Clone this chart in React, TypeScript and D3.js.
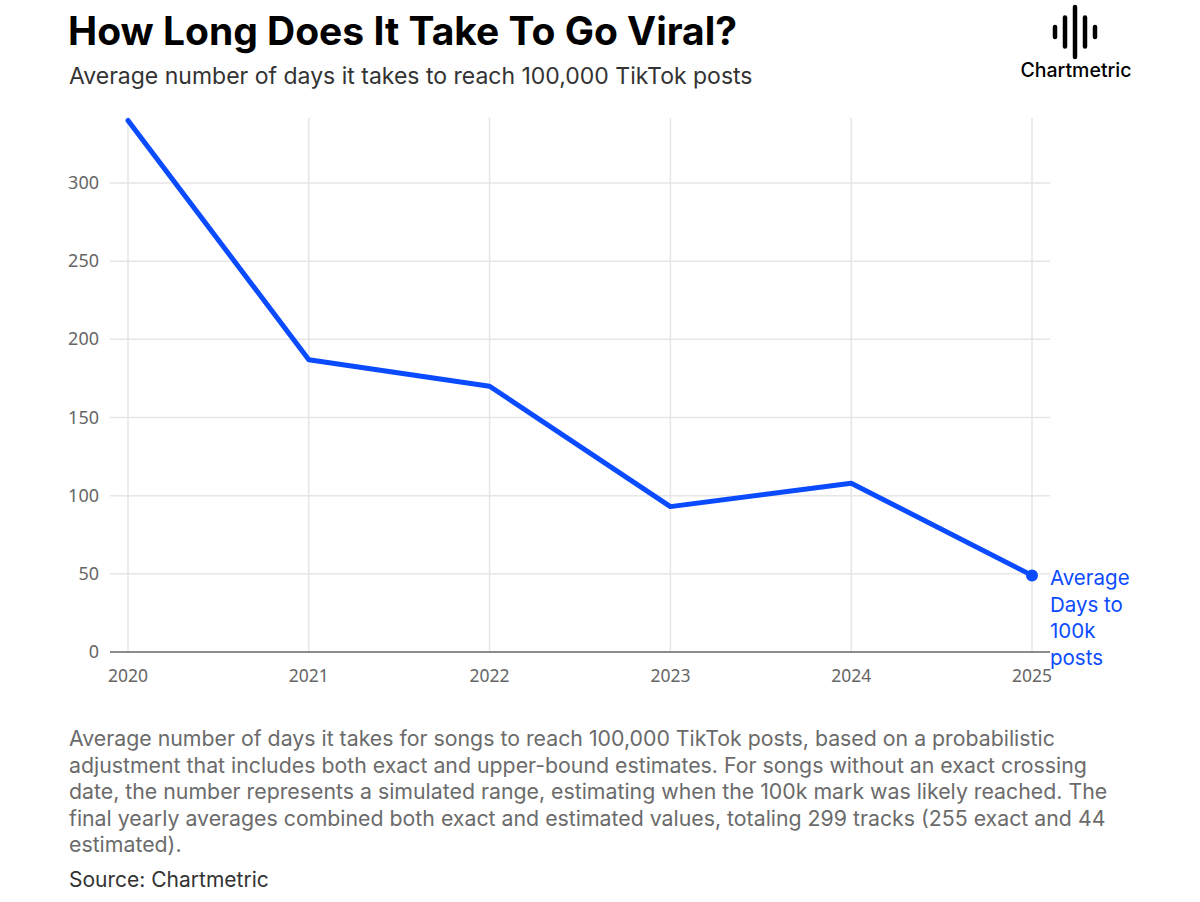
import React from "react";
import * as d3 from "d3";

const years = [2020, 2021, 2022, 2023, 2024, 2025];
const days = [340, 187, 170, 93, 108, 49];
const yTicks = [0, 50, 100, 150, 200, 250, 300];
const captionLines = [
  "Average number of days it takes for songs to reach 100,000 TikTok posts, based on a probabilistic",
  "adjustment that includes both exact and upper-bound estimates. For songs without an exact crossing",
  "date, the number represents a simulated range, estimating when the 100k mark was likely reached. The",
  "final yearly averages combined both exact and estimated values, totaling 299 tracks (255 exact and 44",
  "estimated).",
];
const seriesLabel = ["Average", "Days to", "100k", "posts"];
const logoBars = [
  { dx: -20, h: 10 },
  { dx: -10, h: 29 },
  { dx: 0, h: 50 },
  { dx: 10, h: 29 },
  { dx: 20, h: 10 },
];

const BLUE = "#0B4BFF";

export default function App() {
  const W = 1200, H = 902;
  const x = d3.scalePoint<number>().domain(years).range([128, 1032]);
  const y = d3.scaleLinear().domain([0, 300]).range([652, 183]);
  const line = d3.line<number>().x((_, i) => x(years[i])!).y((d) => y(d));
  const last = days.length - 1;
  const font = "Inter, 'Noto Sans', sans-serif";
  const axisFont = "'Noto Sans', 'Open Sans', sans-serif";
  return (
    <svg width={W} height={H} style={{ position: "absolute", left: 0, top: 0, background: "#fff" }}>
      <rect width={W} height={H} fill="#fff" />
      <text x={68} y={45} fontFamily={font} fontWeight={700} fontSize={39} fill="#000" letterSpacing={0}>
        How Long Does It Take To Go Viral?
      </text>
      <text x={69} y={84} fontFamily={font} fontSize={23} fill="#333">
        Average number of days it takes to reach 100,000 TikTok posts
      </text>
      {/* logo */}
      <g>
        {logoBars.map((b, i) => (
          <line key={i} x1={1075 + b.dx} x2={1075 + b.dx} y1={32 - b.h / 2} y2={32 + b.h / 2}
            stroke="#000" strokeWidth={4.5} strokeLinecap="round" />
        ))}
        <text x={1076} y={77} textAnchor="middle" fontFamily={font} fontSize={19.5} fontWeight={500} fill="#000">
          Chartmetric
        </text>
      </g>
      {/* grid */}
      {yTicks.filter((t) => t > 0).map((t) => (
        <line key={t} x1={110} x2={1050} y1={y(t)} y2={y(t)} stroke="#e6e6e6" strokeWidth={1.5} />
      ))}
      {years.map((yr) => (
        <line key={yr} x1={x(yr)} x2={x(yr)} y1={118} y2={652} stroke="#e6e6e6" strokeWidth={1.5} />
      ))}
      <line x1={110} x2={1050} y1={y(0)} y2={y(0)} stroke="#666" strokeWidth={1.5} />
      {yTicks.map((t) => (
        <text key={t} x={99} y={y(t) + 6} textAnchor="end" fontFamily={axisFont} fontSize={18} fill="#666">
          {t}
        </text>
      ))}
      {years.map((yr) => (
        <text key={yr} x={x(yr)} y={682} textAnchor="middle" fontFamily={axisFont} fontSize={17.5} fill="#666">
          {yr}
        </text>
      ))}
      <path d={line(days) ?? ""} fill="none" stroke={BLUE} strokeWidth={5} strokeLinejoin="round" strokeLinecap="round" />
      <circle cx={x(years[last])} cy={y(days[last])} r={6} fill={BLUE} />
      {seriesLabel.map((s, i) => (
        <text key={i} x={1050} y={585 + i * 26.5} fontFamily={font} fontSize={20.5} fill={BLUE}>
          {s}
        </text>
      ))}
      {captionLines.map((s, i) => (
        <text key={i} x={69} y={746 + i * 26.5} fontFamily={font} fontSize={21.3} fill="#6b6b6b">
          {s}
        </text>
      ))}
      <text x={69} y={887} fontFamily={font} fontSize={21} fill="#333">
        Source: Chartmetric
      </text>
    </svg>
  );
}
